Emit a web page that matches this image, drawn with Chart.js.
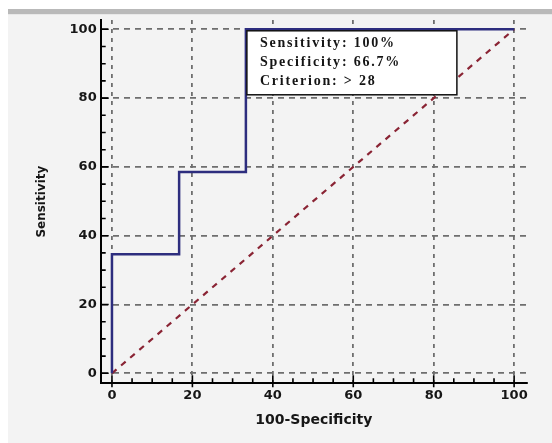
<!DOCTYPE html>
<html>
<head>
<meta charset="utf-8">
<script src="https://cdn.jsdelivr.net/npm/chart.js@4/dist/chart.umd.min.js"></script>
<style>
  html, body { margin: 0; padding: 0; background: #ffffff; }
  canvas { display: block; }
</style>
</head>
<body>
<canvas id="c" width="552" height="443"></canvas>
<script>
// ---- data ----
const rocX = [0, 0, 16.7, 16.7, 33.3, 33.3, 100];
const rocY = [0, 34.6, 34.6, 58.5, 58.5, 100, 100];
const diagX = [0, 100];
const diagY = [0, 100];
const majorTicks = [0, 20, 40, 60, 80, 100];
const minorTicks = [5, 10, 15, 25, 30, 35, 45, 50, 55, 65, 70, 75, 85, 90, 95];
const criterionPoint = [33.3, 100];
const boxLines = ['Sensitivity: 100%', 'Specificity: 66.7%', 'Criterion: > 28'];
const xTitle = '100-Specificity';
const yTitle = 'Sensitivity';

const tickFont = { family: 'DejaVu Sans', weight: 'bold', size: 13 };
const textColor = '#161616';

const backgroundPlugin = {
  id: 'bg',
  beforeDraw(chart) {
    const ctx = chart.ctx;
    ctx.save();
    ctx.fillStyle = '#ffffff';
    ctx.fillRect(0, 0, chart.width, chart.height);
    ctx.fillStyle = '#b9b9b9';
    ctx.fillRect(8, 9, chart.width - 8, 5.5);
    ctx.fillStyle = '#f3f3f3';
    ctx.fillRect(8, 14.5, chart.width - 8, chart.height - 14.5);
    ctx.restore();
  }
};

const ticksPlugin = {
  id: 'axisTicks',
  afterDraw(chart) {
    const ctx = chart.ctx;
    const xs = chart.scales.x, ys = chart.scales.y;
    const axY = chart.chartArea.bottom, axX = chart.chartArea.left;
    ctx.save();
    ctx.strokeStyle = '#000';
    ctx.lineWidth = 1.6;
    ctx.beginPath();
    minorTicks.forEach(v => {
      const px = xs.getPixelForValue(v);
      ctx.moveTo(px, axY); ctx.lineTo(px, axY - 5);
      const py = ys.getPixelForValue(v);
      ctx.moveTo(axX, py); ctx.lineTo(axX + 5, py);
    });
    majorTicks.forEach(v => {
      const px = xs.getPixelForValue(v);
      ctx.moveTo(px, axY + 4); ctx.lineTo(px, axY - 8);
      const py = ys.getPixelForValue(v);
      ctx.moveTo(axX, py); ctx.lineTo(axX + 8, py);
    });
    ctx.stroke();
    ctx.restore();
  }
};

const boxPlugin = {
  id: 'criterionBox',
  afterDatasetsDraw(chart) {
    const ctx = chart.ctx;
    const x0 = chart.scales.x.getPixelForValue(criterionPoint[0]) + 1;
    const y0 = chart.scales.y.getPixelForValue(criterionPoint[1]) + 1.5;
    const w = 210, h = 64;
    ctx.save();
    ctx.fillStyle = '#ffffff';
    ctx.fillRect(x0, y0, w, h);
    ctx.strokeStyle = '#111';
    ctx.lineWidth = 1.5;
    ctx.strokeRect(x0, y0, w, h);
    ctx.fillStyle = '#151515';
    ctx.font = 'bold 14px "Liberation Serif", "DejaVu Serif", serif';
    try { ctx.letterSpacing = '1.8px'; } catch (e) {}
    ctx.textBaseline = 'alphabetic';
    boxLines.forEach((t, i) => {
      ctx.fillText(t, x0 + 13, y0 + 16 + i * 19.2);
    });
    ctx.restore();
  }
};

new Chart(document.getElementById('c'), {
  type: 'scatter',
  data: {
    datasets: [
      {
        label: 'ROC',
        data: rocX.map((x, i) => ({ x: x, y: rocY[i] })),
        showLine: true,
        borderColor: '#2d2d7e',
        borderWidth: 2.5,
        pointRadius: 0,
        tension: 0,
        fill: false
      },
      {
        label: 'Reference',
        data: diagX.map((x, i) => ({ x: x, y: diagY[i] })),
        showLine: true,
        borderColor: '#8a2434',
        borderWidth: 2.2,
        borderDash: [6, 6],
        pointRadius: 0,
        tension: 0,
        fill: false
      }
    ]
  },
  options: {
    responsive: false,
    animation: false,
    devicePixelRatio: 1,
    layout: { padding: { top: 20, right: 25, left: 0, bottom: 0 } },
    plugins: { legend: { display: false }, tooltip: { enabled: false } },
    scales: {
      x: {
        type: 'linear',
        min: -2.8,
        max: 103.2,
        afterBuildTicks: s => { s.ticks = majorTicks.map(v => ({ value: v })); },
        afterFit: s => { s.height = 59.7; },
        grid: { color: '#6e6e6e', lineWidth: 1.8, drawTicks: false },
        border: { color: '#000', width: 2, dash: [4, 5] },
        ticks: { padding: 5, font: tickFont, color: textColor, maxRotation: 0, autoSkip: false },
        title: {
          display: true, text: xTitle, color: textColor,
          font: { family: 'DejaVu Sans', weight: 'bold', size: 14 },
          padding: { top: 0, bottom: 14.6 }
        }
      },
      y: {
        type: 'linear',
        min: -2.9,
        max: 102.7,
        afterBuildTicks: s => { s.ticks = majorTicks.map(v => ({ value: v })); },
        afterFit: s => { s.width = 100.7; },
        grid: { color: '#6e6e6e', lineWidth: 1.8, drawTicks: false },
        border: { color: '#000', width: 2, dash: [6, 5] },
        ticks: { padding: 4, font: tickFont, color: textColor, autoSkip: false },
        title: {
          display: true, text: yTitle, color: textColor,
          font: { family: 'DejaVu Sans', weight: 'bold', size: 12 },
          padding: { top: 34.5, bottom: 0 }
        }
      }
    }
  },
  plugins: [backgroundPlugin, ticksPlugin, boxPlugin]
});
</script>
</body>
</html>
